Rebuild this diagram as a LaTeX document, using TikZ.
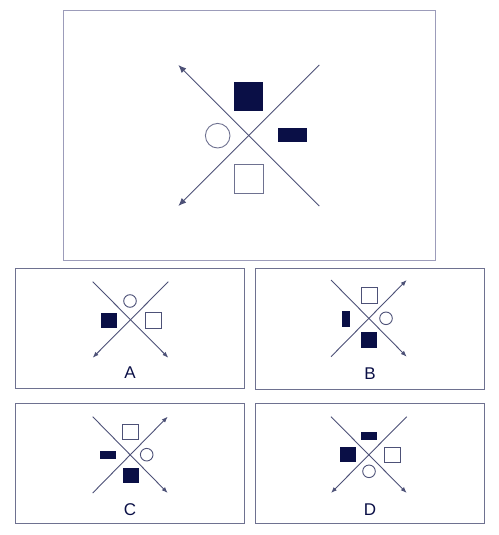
\documentclass[tikz,border=0pt]{standalone}
\usepackage{fontspec}
\setmainfont{Liberation Sans}
\usetikzlibrary{arrows.meta}
\definecolor{navy}{HTML}{0A0F46}
\definecolor{axis}{HTML}{4D5177}
\definecolor{frameline}{HTML}{9C9CBA}
\definecolor{panelline}{HTML}{6E7190}
\tikzset{
  panel/.style={draw=panelline, line width=1pt},
  cross/.style={draw=axis, line width=0.9pt},
  bigtip/.style={-{Latex[length=8pt,width=6.5pt]}},
  smalltip/.style={-{Latex[length=6pt,width=4.5pt]}},
  blk/.style 2 args={rectangle, fill=navy, inner sep=0pt, minimum width=#1, minimum height=#2},
  box/.style={rectangle, draw=axis, line width=0.9pt, fill=white, inner sep=0pt, minimum size=#1},
  ring/.style={circle, draw=axis, line width=0.9pt, inner sep=0pt, minimum size=#1},
  tag/.style={text=navy, font=\fontsize{17}{20}\selectfont}
}
\begin{document}
\begin{tikzpicture}[x=1pt, y=-1pt]
  \useasboundingbox (0,0) rectangle (498,535);
  % question
  \draw[draw=frameline, line width=1pt] (63,11) rectangle (435,260);
  \coordinate (qnw) at (178.3,65);
  \coordinate (qne) at (319.3,65);
  \coordinate (qsw) at (178.3,206);
  \coordinate (qse) at (319.3,206);
  \draw[cross, bigtip] (qse) -- (qnw);
  \draw[cross, bigtip] (qne) -- (qsw);
  \node[blk={29pt}{29pt}] (qbig) at (248.7,96.7) {};
  \node[ring=24.6pt, draw=panelline] (qring) at (217.7,135.7) {};
  \node[blk={29pt}{14pt}] (qbar) at (292,135.3) {};
  \node[box=29pt, draw=panelline] (qbox) at (248.7,178.7) {};

  % option A
  \draw[panel] (15,268) rectangle (244,388);
  \coordinate (anw) at (92.7,281.7);
  \coordinate (ane) at (168.3,281.7);
  \coordinate (asw) at (92.7,357.7);
  \coordinate (ase) at (168.3,357.7);
  \draw[cross, smalltip] (anw) -- (ase);
  \draw[cross, smalltip] (ane) -- (asw);
  \node[ring=12.6pt] (aring) at (130,301) {};
  \node[blk={16pt}{15pt}] (abig) at (109.3,320.2) {};
  \node[box=15.5pt] (abox) at (153.3,320.2) {};
  \node[tag] (alab) at (130,372.3) {A};

  % option B
  \draw[panel] (255,268) rectangle (484,389);
  \coordinate (bnw) at (331,280);
  \coordinate (bne) at (406.7,280);
  \coordinate (bsw) at (331,356.7);
  \coordinate (bse) at (406.7,356.7);
  \draw[cross, smalltip] (bnw) -- (bse);
  \draw[cross, smalltip] (bsw) -- (bne);
  \node[box=15.5pt] (bbox) at (369.3,295.5) {};
  \node[blk={8pt}{16pt}] (bbar) at (346.2,318.7) {};
  \node[ring=12.6pt] (bring) at (386,318.3) {};
  \node[blk={16pt}{15.5pt}] (bbig) at (369.3,340) {};
  \node[tag] (blab) at (370,373.3) {B};

  % option C
  \draw[panel] (15,403) rectangle (244,523);
  \coordinate (cnw) at (92.7,416.7);
  \coordinate (cne) at (167.7,416.7);
  \coordinate (csw) at (92.7,493);
  \coordinate (cse) at (167.7,493);
  \draw[cross, smalltip] (cnw) -- (cse);
  \draw[cross, smalltip] (csw) -- (cne);
  \node[box=15.5pt] (cbox) at (130.3,431.8) {};
  \node[blk={16pt}{8pt}] (cbar) at (107.5,454.7) {};
  \node[ring=12.6pt] (cring) at (146.7,454.7) {};
  \node[blk={16pt}{15.5pt}] (cbig) at (130.5,475.7) {};
  \node[tag] (clab) at (130,509.7) {C};

  % option D
  \draw[panel] (255,403) rectangle (484,523);
  \coordinate (dnw) at (331,416.7);
  \coordinate (dne) at (406.7,416.7);
  \coordinate (dsw) at (331,493);
  \coordinate (dse) at (406.7,493);
  \draw[cross, smalltip] (dnw) -- (dse);
  \draw[cross, smalltip] (dne) -- (dsw);
  \node[blk={16pt}{8pt}] (dbar) at (369.3,435.7) {};
  \node[blk={16pt}{15.5pt}] (dbig) at (348,454.7) {};
  \node[box=15.5pt] (dbox) at (392.3,454.7) {};
  \node[ring=12.6pt] (dring) at (369,471.3) {};
  \node[tag] (dlab) at (370,509.7) {D};
\end{tikzpicture}
\end{document}
